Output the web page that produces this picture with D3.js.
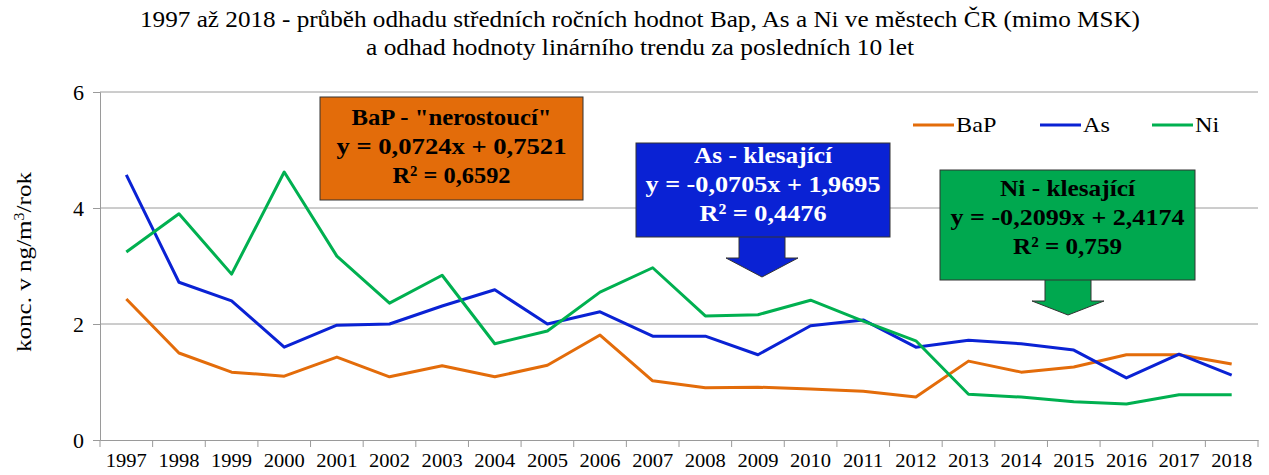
<!DOCTYPE html>
<html>
<head>
<meta charset="utf-8">
<script src="https://cdn.jsdelivr.net/npm/d3@7"></script>
</head>
<body style="margin:0;background:#fff">
<div id="chart"></div>
<script>
// data
var years = ["1997","1998","1999","2000","2001","2002","2003","2004","2005","2006","2007",
             "2008","2009","2010","2011","2012","2013","2014","2015","2016","2017","2018"];
var bap = [2.43,1.5,1.17,1.1,1.43,1.09,1.28,1.09,1.29,1.81,1.02,0.9,0.91,0.88,0.84,0.74,1.36,1.17,1.26,1.47,1.47,1.31];
var as  = [4.57,2.72,2.4,1.6,1.98,2.0,2.31,2.59,2.0,2.21,1.79,1.79,1.47,1.97,2.07,1.6,1.72,1.66,1.55,1.07,1.48,1.12];
var ni  = [3.24,3.9,2.86,4.62,3.17,2.36,2.84,1.66,1.88,2.55,2.97,2.14,2.16,2.41,2.05,1.71,0.79,0.74,0.66,0.62,0.78,0.78];
var yTicks = [0, 2, 4, 6];

var series = [
  {name: "BaP", values: bap, color: "#e36c0a"},
  {name: "As",  values: as,  color: "#0a22d4"},
  {name: "Ni",  values: ni,  color: "#00b050"}
];

var FONT = "'Liberation Serif'";

var W = 1269, H = 475;
var m = {top: 92, right: 11, bottom: 35, left: 100};
var w = W - m.left - m.right, h = H - m.top - m.bottom;

var svg = d3.select("#chart").append("svg")
    .attr("width", W)
    .attr("height", H);

// the source picture is a bit wider than the font -> stretch text horizontally
var stretch = function(sel, k) {
  sel.each(function() {
    var len = this.getComputedTextLength();
    d3.select(this).attr("textLength", len * k).attr("lengthAdjust", "spacingAndGlyphs");
  });
};

// title
svg.append("text").attr("x", 640).attr("y", 27).attr("text-anchor", "middle")
  .style("font-family", FONT).style("font-size", "23px")
  .text("1997 až 2018 - průběh odhadu středních ročních hodnot Bap, As a Ni ve městech ČR (mimo MSK)")
  .attr("textLength", 1000).attr("lengthAdjust", "spacingAndGlyphs");
svg.append("text").attr("x", 640).attr("y", 55).attr("text-anchor", "middle")
  .style("font-family", FONT).style("font-size", "23px")
  .text("a odhad hodnoty linárního trendu za posledních 10 let")
  .attr("textLength", 548).attr("lengthAdjust", "spacingAndGlyphs");

var g = svg.append("g").attr("transform", "translate(" + m.left + "," + m.top + ")");

var x = d3.scaleBand().domain(years).range([0, w]);
var y = d3.scaleLinear().domain([0, 6]).range([h, 0]);

// gridlines
g.selectAll(".grid").data(yTicks.slice(1)).enter().append("line")
  .attr("x1", 0).attr("x2", w)
  .attr("y1", function(d) { return y(d); }).attr("y2", function(d) { return y(d); })
  .attr("stroke", "#9a9a9a").attr("stroke-width", 1);

// y axis
var yAxis = g.append("g")
  .call(d3.axisLeft(y).tickValues(yTicks).tickFormat(d3.format("d")).tickSize(7).tickPadding(9));
yAxis.select(".domain").attr("stroke", "#9a9a9a");
yAxis.selectAll(".tick line").attr("stroke", "#9a9a9a");
yAxis.selectAll("text").style("font-family", FONT).style("font-size", "22px").attr("fill", "#000");

// x axis with ticks between categories
var xAxis = g.append("g").attr("transform", "translate(0," + h + ")")
  .call(d3.axisBottom(x).tickSize(0).tickPadding(14));
xAxis.select(".domain").attr("stroke", "#9a9a9a");
xAxis.selectAll("text").style("font-family", FONT).style("font-size", "19px").attr("fill", "#000");
var bounds = years.map(function(d) { return x(d); }).concat([w]);
xAxis.selectAll(".sep").data(bounds).enter().append("line")
  .attr("x1", function(d) { return d; }).attr("x2", function(d) { return d; })
  .attr("y1", 0).attr("y2", 7)
  .attr("stroke", "#9a9a9a");
stretch(xAxis.selectAll(".tick text"), 1.08);

// y label
svg.append("text")
  .attr("transform", "translate(31," + (m.top + h / 2 - 4) + ") rotate(-90)")
  .attr("text-anchor", "middle")
  .style("font-family", FONT).style("font-size", "22px")
  .html("konc. v ng/m<tspan baseline-shift=\"super\" style=\"font-size:14px\">3</tspan>/rok")
  .attr("textLength", 180).attr("lengthAdjust", "spacingAndGlyphs");

// lines
var line = d3.line()
  .x(function(d, i) { return x(years[i]) + x.bandwidth() / 2; })
  .y(function(d) { return y(d); });

series.forEach(function(s) {
  g.append("path")
    .datum(s.values)
    .attr("fill", "none")
    .attr("stroke", s.color)
    .attr("stroke-width", 3)
    .attr("stroke-linejoin", "round")
    .attr("d", line);
});

// legend
var legend = [
  {name: "BaP", x: 913},
  {name: "As", x: 1040},
  {name: "Ni", x: 1152}
];
legend.forEach(function(l, i) {
  svg.append("line").attr("x1", l.x).attr("x2", l.x + 41)
    .attr("y1", 125).attr("y2", 125)
    .attr("stroke", series[i].color).attr("stroke-width", 3);
  var lt = svg.append("text").attr("x", l.x + 43).attr("y", 132)
    .style("font-family", FONT).style("font-size", "22px").text(l.name);
  stretch(lt, 1.1);
});

// trend callouts
var boxes = [
  {x: 320, y: 97, w: 263, h: 103, fill: "#e36c0a", color: "#000", base: 125,
   lines: ["BaP - \"nerostoucí\"", "y = 0,0724x + 0,7521", "R² = 0,6592"], widths: [200, 230, 118], arrow: null},
  {x: 636, y: 143, w: 254, h: 94, fill: "#0a22d4", color: "#fff", base: 163,
   lines: ["As - klesající", "y = -0,0705x + 1,9695", "R² = 0,4476"], widths: [138, 235, 127],
   arrow: {cx: 762, stem: 22, stemW: 46, headW: 72, tip: 277}},
  {x: 940, y: 170, w: 255, h: 110, fill: "#00a84f", color: "#000", base: 196,
   lines: ["Ni - klesající", "y = -0,2099x + 2,4174", "R² = 0,759"], widths: [135, 234, 109],
   arrow: {cx: 1068, stem: 22, stemW: 46, headW: 72, tip: 315}}
];

boxes.forEach(function(b) {
  if (b.arrow) {
    var a = b.arrow, top = b.y + b.h - 1, neck = top + a.stem;
    var pts = [
      [a.cx - a.stemW / 2, top], [a.cx + a.stemW / 2, top],
      [a.cx + a.stemW / 2, neck], [a.cx + a.headW / 2, neck],
      [a.cx, a.tip], [a.cx - a.headW / 2, neck],
      [a.cx - a.stemW / 2, neck]
    ];
    svg.append("path")
      .attr("d", "M" + pts.join("L") + "Z")
      .attr("fill", b.fill).attr("stroke", "#333").attr("stroke-width", 1);
  }
  svg.append("rect").attr("x", b.x).attr("y", b.y).attr("width", b.w).attr("height", b.h)
    .attr("fill", b.fill).attr("stroke", "#333").attr("stroke-width", 1);
  b.lines.forEach(function(t, i) {
    svg.append("text")
      .attr("x", b.x + b.w / 2).attr("y", b.base + i * 29)
      .attr("text-anchor", "middle")
      .style("font-family", FONT).style("font-size", "24px").style("font-weight", "bold")
      .attr("fill", b.color)
      .text(t)
      .attr("textLength", b.widths[i]).attr("lengthAdjust", "spacingAndGlyphs");
  });
});
</script>
</body>
</html>
